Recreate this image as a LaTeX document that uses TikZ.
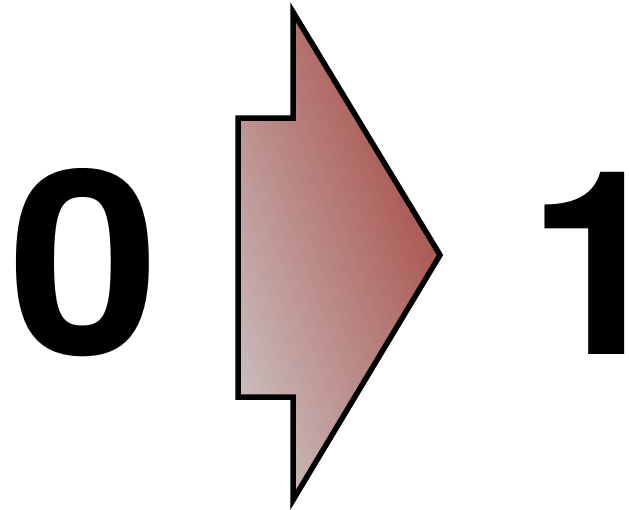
\documentclass[tikz,border=0pt]{standalone}
\usepackage{fontspec}
\setmainfont{TeX Gyre Heros}
\usetikzlibrary{positioning}
\definecolor{flipdark}{HTML}{A5463F}
\definecolor{fliplight}{HTML}{C9BBBB}
\begin{document}
\begin{tikzpicture}[x=1pt,y=-1pt,
  digit/.style={font=\fontsize{257}{257}\selectfont\bfseries, inner sep=0pt, anchor=base},
  flip/.style={draw=black, line width=5.5pt, line join=miter, left color=fliplight, right color=flipdark, shading angle=110}]
\useasboundingbox (0,0) rectangle (629,509);
\node[digit, xscale=1.06, transform shape] (zero) at (84,354) {0};
\node[digit, anchor=base east] (one) at (629,354) {1\kern-0.16em};
% the step from 0 to 1
\draw[flip] (238,118) -- (293,118) -- (293,12) -- (440,255) -- (293,500) -- (293,397) -- (238,397) -- cycle;
\end{tikzpicture}
\end{document}
